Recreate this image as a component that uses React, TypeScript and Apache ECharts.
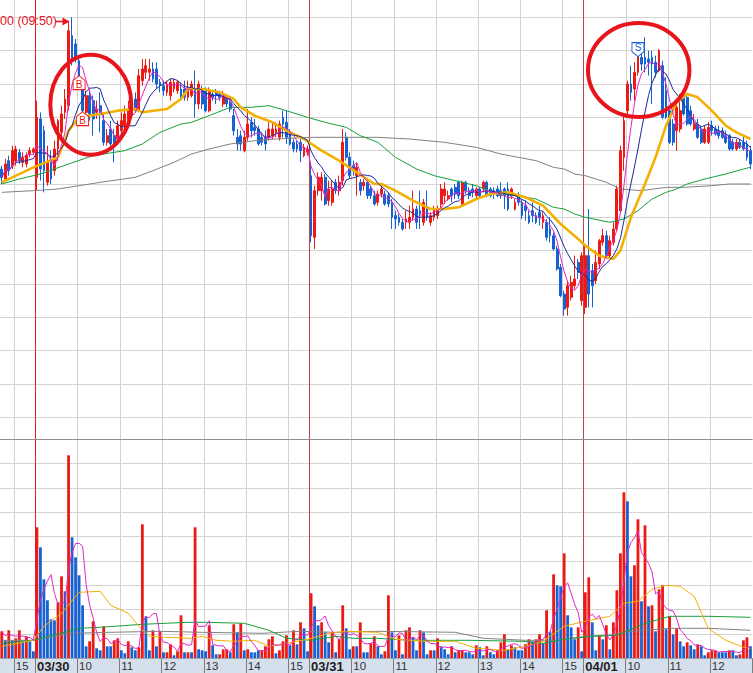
import React, { useEffect, useRef } from "react";
import * as echarts from "echarts";

// ---------------- time axis (5-minute bars) ----------------
const SESSION_DATES = ["03/27", "03/30", "03/31", "04/01"];
const SESSION_FIRST_BAR = ["14:40", "09:00", "09:00", "09:00"];
const SESSION_BAR_COUNT = [10, 78, 78, 48];

// ---------------- candles: [open, close, low, high] ----------------
const CANDLES: number[][] = [
  // 03/27 14:40 - 15:25
  [9745, 9720, 9700, 9755], [9715, 9760, 9710, 9775], [9770, 9740, 9725, 9785], [9755, 9800, 9745, 9815], [9770, 9805, 9755, 9815],
  [9795, 9770, 9760, 9805], [9765, 9780, 9750, 9795], [9760, 9785, 9750, 9795], [9790, 9800, 9780, 9810], [9795, 9805, 9790, 9810],
  // 03/30
  [9720, 9900, 9680, 9950], [9895, 9745, 9710, 9915], [9860, 9740, 9675, 9875], [9705, 9765, 9695, 9815], [9765, 9715, 9700, 9800],
  [9740, 9805, 9725, 9830], [9805, 9890, 9770, 9895], [9855, 9910, 9830, 9935], [9915, 9955, 9895, 9985], [9935, 10160, 9920, 10190],
  [10145, 10070, 10055, 10200], [10120, 10075, 10065, 10135], [10070, 10020, 10010, 10085], [9985, 9920, 9905, 10010], [9915, 9965, 9895, 9980],
  [9965, 9910, 9890, 9985], [9950, 9895, 9845, 9965], [9915, 9925, 9895, 9950], [9935, 9915, 9855, 9975], [9890, 9825, 9815, 9915],
  [9825, 9845, 9815, 9865], [9865, 9820, 9815, 9890], [9845, 9820, 9765, 9865], [9835, 9875, 9830, 9890], [9860, 9890, 9845, 9915],
  [9875, 9910, 9865, 9935], [9890, 9920, 9875, 9950], [9905, 9925, 9895, 9940], [9955, 9920, 9915, 9975], [9920, 10025, 9915, 10045],
  [10010, 10045, 9995, 10075], [10035, 10055, 10015, 10075], [10035, 10045, 10010, 10075], [10045, 10015, 10005, 10065], [10045, 10000, 9985, 10065],
  [10005, 9995, 9975, 10015], [9995, 9980, 9965, 10010], [9975, 10000, 9965, 10010], [9965, 10005, 9950, 10015], [9985, 10005, 9975, 10015],
  [9980, 10005, 9970, 10010], [9985, 9960, 9950, 10005], [9985, 9960, 9950, 10010], [9960, 9990, 9950, 10010], [9965, 10000, 9960, 10010],
  [9980, 9940, 9900, 10040], [9940, 10000, 9925, 10010], [9980, 9940, 9925, 9995], [9980, 9920, 9915, 9990], [9920, 9980, 9915, 9990],
  [9970, 9960, 9950, 9980], [9975, 9965, 9940, 9985], [9970, 9960, 9950, 9980], [9940, 9965, 9930, 9980], [9960, 9940, 9930, 9965],
  [9945, 9925, 9915, 9955], [9905, 9860, 9845, 9925], [9840, 9820, 9800, 9865], [9845, 9820, 9800, 9860], [9800, 9840, 9795, 9860],
  [9840, 9880, 9830, 9925], [9885, 9860, 9840, 9900], [9870, 9860, 9845, 9895], [9865, 9820, 9815, 9875], [9840, 9825, 9815, 9855],
  [9840, 9820, 9800, 9860], [9840, 9865, 9830, 9885], [9845, 9865, 9835, 9885], [9855, 9865, 9840, 9885], [9840, 9880, 9830, 9890],
  [9900, 9880, 9840, 9920], [9885, 9840, 9820, 9920], [9855, 9820, 9815, 9865], [9825, 9805, 9795, 9835], [9820, 9805, 9795, 9830],
  [9825, 9800, 9765, 9835], [9785, 9810, 9780, 9820], [9795, 9805, 9785, 9815],
  // 03/31
  [9725, 9545, 9525, 9765], [9540, 9680, 9505, 9695], [9680, 9720, 9665, 9735], [9680, 9720, 9650, 9735], [9720, 9640, 9635, 9730],
  [9650, 9685, 9635, 9710], [9645, 9685, 9635, 9710], [9705, 9680, 9670, 9715], [9680, 9705, 9665, 9725], [9710, 9825, 9695, 9865],
  [9840, 9780, 9770, 9855], [9780, 9725, 9715, 9795], [9755, 9740, 9725, 9770], [9725, 9750, 9665, 9765], [9705, 9680, 9665, 9715],
  [9695, 9705, 9680, 9715], [9705, 9665, 9655, 9715], [9685, 9665, 9655, 9695], [9665, 9640, 9635, 9680], [9645, 9670, 9635, 9680],
  [9670, 9685, 9660, 9695], [9670, 9640, 9635, 9680], [9665, 9640, 9630, 9675], [9645, 9600, 9565, 9655], [9605, 9595, 9565, 9620],
  [9600, 9585, 9575, 9610], [9585, 9565, 9560, 9595], [9585, 9595, 9565, 9620], [9585, 9600, 9565, 9635], [9600, 9625, 9590, 9680],
  [9625, 9585, 9565, 9635], [9620, 9610, 9565, 9680], [9585, 9645, 9575, 9655], [9630, 9600, 9590, 9680], [9585, 9605, 9575, 9615],
  [9600, 9625, 9590, 9635], [9605, 9625, 9595, 9635], [9640, 9685, 9625, 9700], [9665, 9685, 9640, 9705], [9655, 9665, 9650, 9680],
  [9685, 9665, 9645, 9690], [9690, 9670, 9655, 9700], [9705, 9665, 9655, 9710], [9640, 9705, 9635, 9710], [9705, 9680, 9670, 9710],
  [9680, 9665, 9655, 9690], [9685, 9675, 9660, 9700], [9665, 9685, 9655, 9690], [9685, 9665, 9660, 9690], [9685, 9705, 9675, 9710],
  [9705, 9665, 9660, 9710], [9685, 9665, 9660, 9690], [9680, 9670, 9655, 9690], [9685, 9665, 9660, 9695], [9680, 9665, 9655, 9705],
  [9685, 9665, 9625, 9690], [9685, 9625, 9620, 9705], [9665, 9685, 9655, 9690], [9625, 9645, 9620, 9655], [9665, 9645, 9635, 9675],
  [9645, 9605, 9595, 9655], [9635, 9620, 9590, 9650], [9605, 9585, 9580, 9620], [9620, 9605, 9585, 9645], [9605, 9585, 9580, 9615],
  [9615, 9600, 9575, 9635], [9585, 9605, 9565, 9615], [9585, 9540, 9530, 9595], [9565, 9545, 9525, 9600], [9545, 9505, 9500, 9555],
  [9505, 9445, 9440, 9515], [9450, 9365, 9360, 9460], [9370, 9325, 9305, 9380], [9330, 9395, 9305, 9410], [9360, 9405, 9350, 9425],
  [9395, 9415, 9385, 9485], [9465, 9435, 9415, 9475], [9350, 9485, 9335, 9495],
  // 04/01
  [9330, 9485, 9310, 9520], [9485, 9370, 9330, 9625], [9440, 9395, 9330, 9460], [9410, 9465, 9400, 9500], [9460, 9530, 9445, 9535],
  [9525, 9545, 9515, 9565], [9545, 9485, 9475, 9560], [9485, 9530, 9475, 9545], [9525, 9565, 9515, 9585], [9565, 9685, 9560, 9695],
  [9620, 9800, 9615, 9815], [9780, 9890, 9740, 9910], [9920, 10000, 9900, 10010], [10000, 9975, 9950, 10055], [9985, 10035, 9950, 10065],
  [10035, 10085, 10025, 10115], [10080, 10060, 10040, 10120], [10080, 10060, 10035, 10140], [10075, 10065, 10025, 10100], [10080, 10060, 9940, 10100],
  [10065, 10035, 10020, 10085], [10040, 10100, 10035, 10105], [10055, 9900, 9895, 10070], [9980, 9900, 9895, 10020], [9920, 9825, 9820, 9935],
  [9880, 9825, 9815, 9895], [9860, 9930, 9800, 9950], [9865, 9920, 9855, 9970], [9965, 9910, 9905, 9975], [9960, 9880, 9875, 9965],
  [9920, 9880, 9875, 9935], [9865, 9880, 9860, 9910], [9880, 9840, 9835, 9895], [9865, 9825, 9820, 9875], [9825, 9865, 9820, 9875],
  [9825, 9870, 9820, 9885], [9875, 9860, 9845, 9890], [9865, 9850, 9845, 9875], [9860, 9845, 9835, 9875], [9860, 9840, 9835, 9870],
  [9845, 9825, 9820, 9860], [9845, 9805, 9800, 9850], [9825, 9805, 9800, 9835], [9805, 9825, 9800, 9835], [9825, 9810, 9805, 9835],
  [9825, 9805, 9800, 9845], [9820, 9780, 9770, 9830], [9800, 9760, 9745, 9815],
];

// ---------------- volume (thousand shares) ----------------
const VOLUMES: number[] = [
  27, 18, 28, 18, 20, 28, 17, 22, 17, 7,
  131, 111, 79, 58, 39, 38, 56, 82, 67, 203,
  121, 101, 83, 53, 12, 17, 37, 10, 8, 32,
  12, 12, 18, 20, 8, 5, 17, 11, 8, 11,
  134, 42, 8, 28, 12, 27, 6, 6, 14, 3,
  7, 43, 6, 6, 6, 131, 9, 8, 7, 33,
  13, 4, 4, 9, 9, 6, 34, 26, 35, 8,
  9, 6, 6, 8, 8, 12, 19, 22, 5, 8,
  17, 23, 13, 28, 14, 36, 30, 7, 65, 52,
  33, 36, 26, 16, 26, 6, 19, 53, 30, 9,
  12, 12, 36, 6, 6, 15, 22, 12, 4, 7,
  63, 26, 8, 23, 4, 28, 31, 21, 8, 28,
  26, 4, 8, 8, 20, 12, 9, 4, 12, 6,
  8, 8, 6, 6, 4, 13, 11, 3, 12, 6,
  4, 8, 16, 24, 9, 13, 11, 8, 8, 14,
  19, 17, 19, 24, 15, 48, 26, 84, 73, 72,
  105, 43, 31, 19, 31, 7, 66, 81, 36, 8,
  23, 19, 33, 9, 36, 68, 105, 166, 157, 82,
  93, 139, 57, 133, 52, 53, 27, 69, 73, 29,
  42, 24, 30, 17, 12, 16, 13, 9, 14, 12,
  3, 6, 8, 8, 6, 6, 6, 8, 8, 3,
  4, 18, 21, 12,
];
// r = up bar (red), b = down bar (blue)
const VOLUME_SIDE =
  "rbrbrrbrbb" + "rbbbbbrrbr" + "bbbbbrrbbr" + "bbrrbbrbbr" + "rbbrbrbrrb" +
  "rrbrbrbbbr" + "bbrrrbrbrb" + "rbbbrrrrbr" + "rrbrbrbbrb" + "brbbrbrrbb" +
  "rbrbbrrbbr" + "rbbrbrrbbr" + "bbrbrbbbrb" + "rrbbbrbbrb" + "brrrbrbbbr" +
  "rbrrbrbrbb" + "rbbbrbrrbb" + "rbrbrrrrbb" + "rrbrbrbrrb" + "rbrbbrbbrb" +
  "brrrbbbrbb" + "rrrb";

// ---------------- long moving averages: [bar, value] ----------------
const PRICE_MA20: number[][] = [
  [0, 9705], [9, 9750], [16, 9780], [19, 9860], [22, 9900], [28, 9910], [33, 9920], [38, 9925], [40, 9915],
  [47, 9925], [51, 9955], [53, 9985], [57, 9985], [62, 9975], [66, 9955], [68, 9930], [72, 9905], [77, 9885],
  [81, 9860], [86, 9835], [91, 9800], [96, 9770], [101, 9735], [106, 9700], [108, 9700], [112, 9680], [117, 9650],
  [122, 9625], [126, 9625], [130, 9630], [135, 9655], [139, 9670], [144, 9675], [149, 9660], [154, 9635], [159, 9580],
  [164, 9535], [166, 9515], [170, 9485], [174, 9475], [176, 9500], [179, 9600], [183, 9700], [186, 9780], [189, 9875],
  [192, 9945], [195, 9970], [198, 9960], [202, 9920], [206, 9875], [209, 9855], [213, 9835],
];
const PRICE_MA60: number[][] = [
  [0, 9700], [5, 9715], [11, 9730], [19, 9760], [26, 9785], [35, 9800], [40, 9820], [45, 9855], [51, 9880],
  [54, 9885], [59, 9905], [65, 9930], [71, 9930], [76, 9935], [81, 9920], [87, 9900], [92, 9885], [98, 9870],
  [102, 9845], [107, 9825], [112, 9780], [118, 9745], [123, 9725], [129, 9710], [135, 9695], [140, 9675], [146, 9665],
  [152, 9655], [157, 9630], [160, 9625], [163, 9610], [166, 9600], [173, 9585], [177, 9595], [181, 9620], [185, 9655],
  [189, 9675], [192, 9685], [195, 9700], [200, 9715], [206, 9730], [211, 9745], [213, 9750],
];
const PRICE_MA120: number[][] = [
  [0, 9675], [9, 9680], [16, 9685], [19, 9690], [28, 9705], [38, 9720], [43, 9740], [49, 9765], [54, 9790],
  [59, 9805], [65, 9820], [72, 9830], [78, 9835], [88, 9840], [97, 9840], [107, 9840], [116, 9835], [126, 9825],
  [135, 9810], [142, 9790], [152, 9770], [157, 9750], [160, 9745], [163, 9730], [166, 9725], [172, 9705], [176, 9685],
  [182, 9680], [189, 9690], [194, 9690], [202, 9695], [207, 9700], [213, 9700],
];
const VOLUME_MA20: number[][] = [
  [0, 12], [9, 18], [12, 32], [17, 45], [22, 66], [28, 67], [31, 53], [36, 45], [39, 32], [42, 22], [47, 21],
  [54, 20], [57, 22], [61, 18], [66, 17], [72, 18], [76, 12], [81, 15], [87, 19], [93, 25], [98, 27], [107, 26],
  [112, 19], [121, 17], [129, 17], [135, 10], [143, 8], [149, 12], [154, 17], [160, 32], [166, 37], [173, 42],
  [177, 55], [181, 57], [185, 69], [189, 73], [193, 72], [197, 62], [201, 30], [206, 18], [211, 11], [213, 10],
];
const VOLUME_MA60: number[][] = [
  [0, 15], [9, 18], [19, 27], [22, 30], [28, 31], [40, 34], [53, 36], [58, 36], [69, 35], [76, 28], [81, 20],
  [88, 18], [95, 22], [100, 20], [107, 20], [116, 18], [133, 18], [148, 17], [154, 15], [160, 19], [168, 22],
  [175, 23], [183, 35], [190, 42], [201, 42], [213, 41],
];
const VOLUME_MA120: number[][] = [
  [0, 18], [9, 18], [19, 25], [31, 26], [45, 27], [57, 26], [74, 25], [85, 27], [95, 26], [107, 27], [129, 26],
  [137, 20], [149, 18], [158, 18], [166, 22], [173, 23], [179, 27], [190, 30], [201, 30], [213, 28],
];

// ---------------- trade signals & note ----------------
const SIGNALS = [
  { bar: 22, price: 10004, kind: "B" },
  { bar: 23, price: 9896, kind: "B" },
  { bar: 181, price: 10103, kind: "S" },
];
const HIGH_NOTE = "00 (09:50)";

// ---------------- axis ranges ----------------
const PRICE_MIN = 9000;
const PRICE_MAX = 10200;
const PRICE_STEP = 100;
const VOLUME_MAX = 219;
const VOLUME_LINES = 9;

// ---------------- styling ----------------
const RED = "#ec1a12";
const BLUE = "#1762d3";
const MAGENTA = "#e126c6";
const NAVY = "#1b2a9c";
const ORANGE = "#f3b000";
const GREEN = "#14a03a";
const GRAY = "#808080";
const GRID_LINE = "#d3d3d3";
const CURSOR_LINE = "#f21a1a";
const DAY_LINE = "#bd4446";
const FONT = '"Liberation Sans", Arial, sans-serif';

const PLOT_LEFT = -0.9;
const PLOT_WIDTH = 753.1;

function buildCategories(): string[] {
  const out: string[] = [];
  SESSION_DATES.forEach((d, k) => {
    const [h0, m0] = SESSION_FIRST_BAR[k].split(":").map(Number);
    let t = h0 * 60 + m0;
    for (let n = 0; n < SESSION_BAR_COUNT[k]; n++, t += 5) {
      const hh = String(Math.floor(t / 60)).padStart(2, "0");
      const mm = String(t % 60).padStart(2, "0");
      out.push(`${d} ${hh}:${mm}`);
    }
  });
  return out;
}

function movingAverage(values: number[], n: number): number[] {
  return values.map((_, i) => {
    const s = Math.max(0, i - n + 1);
    let sum = 0;
    for (let j = s; j <= i; j++) sum += values[j];
    return +(sum / (i - s + 1)).toFixed(1);
  });
}

function buildOption() {
  const cats = buildCategories();
  const closes = CANDLES.map((c) => c[1]);
  const isHour = (_i: number, v: string) => v.slice(-2) === "00";

  // bar boundary indices: hour grid lines, and session starts (kind 2 = first session shown, 1 = later)
  const hourBounds: number[][] = [];
  const dayBounds: number[][] = [];
  cats.forEach((v, i) => {
    if (v.slice(6) === "09:00") dayBounds.push([i, dayBounds.length === 0 ? 2 : 1]);
    else if (v.slice(-2) === "00") hourBounds.push([i, 0]);
  });

  const verticalSeries = (data: number[][], z: number) => ({
    type: "custom", xAxisIndex: 3, yAxisIndex: 2, silent: true, z, clip: false, data,
    renderItem: (params: any, api: any) => {
      const x = Math.round(api.coord([api.value(0), 0])[0]) + 0.5;
      const cs = params.coordSys;
      const kind = api.value(1);
      return {
        type: "line",
        shape: { x1: x, y1: cs.y, x2: x, y2: cs.y + cs.height },
        style: { stroke: kind === 2 ? CURSOR_LINE : kind === 1 ? DAY_LINE : GRID_LINE, lineWidth: 1 },
      };
    },
  });

  const hiddenCat = (grid: number) => ({
    gridIndex: grid, type: "category", data: cats, show: false,
  });

  const lineSeries = (name: string, data: any, color: string, width: number, xi: number, yi: number) => ({
    name, type: "line", data, xAxisIndex: xi, yAxisIndex: yi, symbol: "none", showSymbol: false,
    smooth: false, silent: true, lineStyle: { color, width }, z: 3,
  });

  const BUY_PATH = "path://M6 0 L12 5 L12 14 L0 14 L0 5 Z";
  const SELL_PATH = "path://M0 0 L12 0 L12 9 L6 14 L0 9 Z";

  return {
    animation: false,
    textStyle: { fontFamily: FONT },
    grid: [
      { left: PLOT_LEFT, width: PLOT_WIDTH, top: 17.33, height: 400 },
      { left: PLOT_LEFT, width: PLOT_WIDTH, top: 439.3, height: 219 },
      { left: PLOT_LEFT, width: PLOT_WIDTH, top: 0, height: 658.3 },
      { left: 0, width: 753, top: 658.3, height: 16, show: true, backgroundColor: "#d6dfec", borderWidth: 0 },
    ],
    xAxis: [
      hiddenCat(0),
      {
        gridIndex: 1, type: "category", data: cats, position: "bottom", z: 4,
        axisLine: { show: true, lineStyle: { color: "#9aa2ad", width: 1 } },
        axisTick: { show: true, interval: isHour, length: 16, lineStyle: { color: "#7d7d7d" } },
        splitLine: { show: false },
        axisLabel: {
          show: true, interval: isHour, align: "left", verticalAlign: "middle", margin: 8,
          formatter: (v: string) => {
            const t = v.slice(6);
            return t === "09:00" ? `{d|${v.slice(0, 5)}}` : `{h|${Number(t.slice(0, 2))}}`;
          },
          rich: {
            d: { fontWeight: "bold", fontSize: 13, color: "#1e1e1e", fontFamily: FONT },
            h: { fontSize: 11.5, color: "#333333", fontFamily: FONT },
          },
        },
      },
      {
        gridIndex: 1, type: "category", data: cats, position: "top", z: 4,
        axisLine: { show: true, lineStyle: { color: "#8e8e8e", width: 1 } },
        axisTick: { show: false }, axisLabel: { show: false }, splitLine: { show: false },
      },
      { gridIndex: 2, type: "value", min: 0, max: cats.length, show: false },
      { gridIndex: 3, type: "value", min: 0, max: 1, show: false },
    ],
    yAxis: [
      {
        gridIndex: 0, type: "value", min: PRICE_MIN, max: PRICE_MAX, interval: PRICE_STEP,
        axisLine: { show: false }, axisTick: { show: false }, axisLabel: { show: false },
        splitLine: { show: true, lineStyle: { color: GRID_LINE, width: 1 } },
      },
      {
        gridIndex: 1, type: "value", min: 0, max: VOLUME_MAX, interval: VOLUME_MAX / VOLUME_LINES,
        axisLine: { show: false }, axisTick: { show: false }, axisLabel: { show: false },
        splitLine: { show: true, lineStyle: { color: GRID_LINE, width: 1 } },
      },
      { gridIndex: 2, type: "value", min: 0, max: 1, show: false },
      { gridIndex: 3, type: "value", min: 0, max: 1, show: false },
    ],
    series: [
      verticalSeries(hourBounds, 1),
      verticalSeries(dayBounds, 1),
      {
        name: "candles", type: "candlestick", xAxisIndex: 0, yAxisIndex: 0, data: CANDLES,
        barWidth: 2.3, clip: false, silent: true, z: 2,
        itemStyle: { color: RED, color0: BLUE, borderColor: RED, borderColor0: BLUE, borderWidth: 1 },
        markPoint: {
          silent: true, z: 6,
          data: SIGNALS.map((s) => {
            const c = s.kind === "B" ? RED : BLUE;
            return {
              coord: [s.bar, s.price],
              symbol: s.kind === "B" ? BUY_PATH : SELL_PATH,
              symbolSize: [12, 14],
              symbolKeepAspect: false,
              itemStyle: { color: "#ffffff", borderColor: c, borderWidth: 1 },
              label: {
                show: true, position: "inside", formatter: s.kind, color: c,
                fontSize: 10, fontFamily: FONT, offset: s.kind === "B" ? [0, 2] : [0, -2],
              },
            };
          }),
        },
      },
      lineSeries("MA120", PRICE_MA120, GRAY, 1, 0, 0),
      lineSeries("MA60", PRICE_MA60, GREEN, 1, 0, 0),
      lineSeries("MA20", PRICE_MA20, ORANGE, 2.6, 0, 0),
      lineSeries("MA10", movingAverage(closes, 10), NAVY, 1, 0, 0),
      lineSeries("MA5", movingAverage(closes, 5), MAGENTA, 1, 0, 0),
      {
        name: "volume", type: "bar", xAxisIndex: 1, yAxisIndex: 1, barWidth: 2.8, silent: true, z: 2,
        data: VOLUMES.map((v, i) => ({ value: v, itemStyle: { color: VOLUME_SIDE[i] === "r" ? RED : BLUE } })),
      },
      lineSeries("VMA120", VOLUME_MA120, GRAY, 1, 1, 1),
      lineSeries("VMA60", VOLUME_MA60, GREEN, 1, 1, 1),
      lineSeries("VMA20", VOLUME_MA20, ORANGE, 1, 1, 1),
      lineSeries("VMA5", movingAverage(VOLUMES, 5), MAGENTA, 1, 1, 1),
    ],
    graphic: [
      {
        type: "ellipse", z: 100, silent: true,
        shape: { cx: 90.8, cy: 104.7, rx: 40.5, ry: 50 },
        style: { fill: "transparent", stroke: "#e8141c", lineWidth: 4 },
      },
      {
        type: "ellipse", z: 100, silent: true,
        shape: { cx: 638.7, cy: 70, rx: 50.7, ry: 47 },
        style: { fill: "transparent", stroke: "#e8141c", lineWidth: 4 },
      },
      {
        type: "text", z: 100, silent: true, x: 0, y: 14,
        style: { text: HIGH_NOTE, fill: "#e8141c", fontSize: 12.5, fontFamily: FONT, verticalAlign: "top" },
      },
      {
        type: "line", z: 100, silent: true,
        shape: { x1: 55, y1: 21.5, x2: 64, y2: 21.5 },
        style: { stroke: "#e8141c", lineWidth: 1.5 },
      },
      {
        type: "polygon", z: 100, silent: true,
        shape: { points: [[62.5, 17.5], [69.5, 21.5], [62.5, 25.5]] },
        style: { fill: "#e8141c" },
      },
    ],
  };
}

export default function App() {
  const ref = useRef<HTMLDivElement>(null);
  useEffect(() => {
    if (!ref.current) return;
    const chart = echarts.init(ref.current, null, { renderer: "svg" });
    chart.setOption(buildOption() as any);
    return () => chart.dispose();
  }, []);
  return (
    <div
      ref={ref}
      style={{ position: "fixed", left: 0, top: 0, width: 753, height: 673, background: "#ffffff" }}
    />
  );
}
